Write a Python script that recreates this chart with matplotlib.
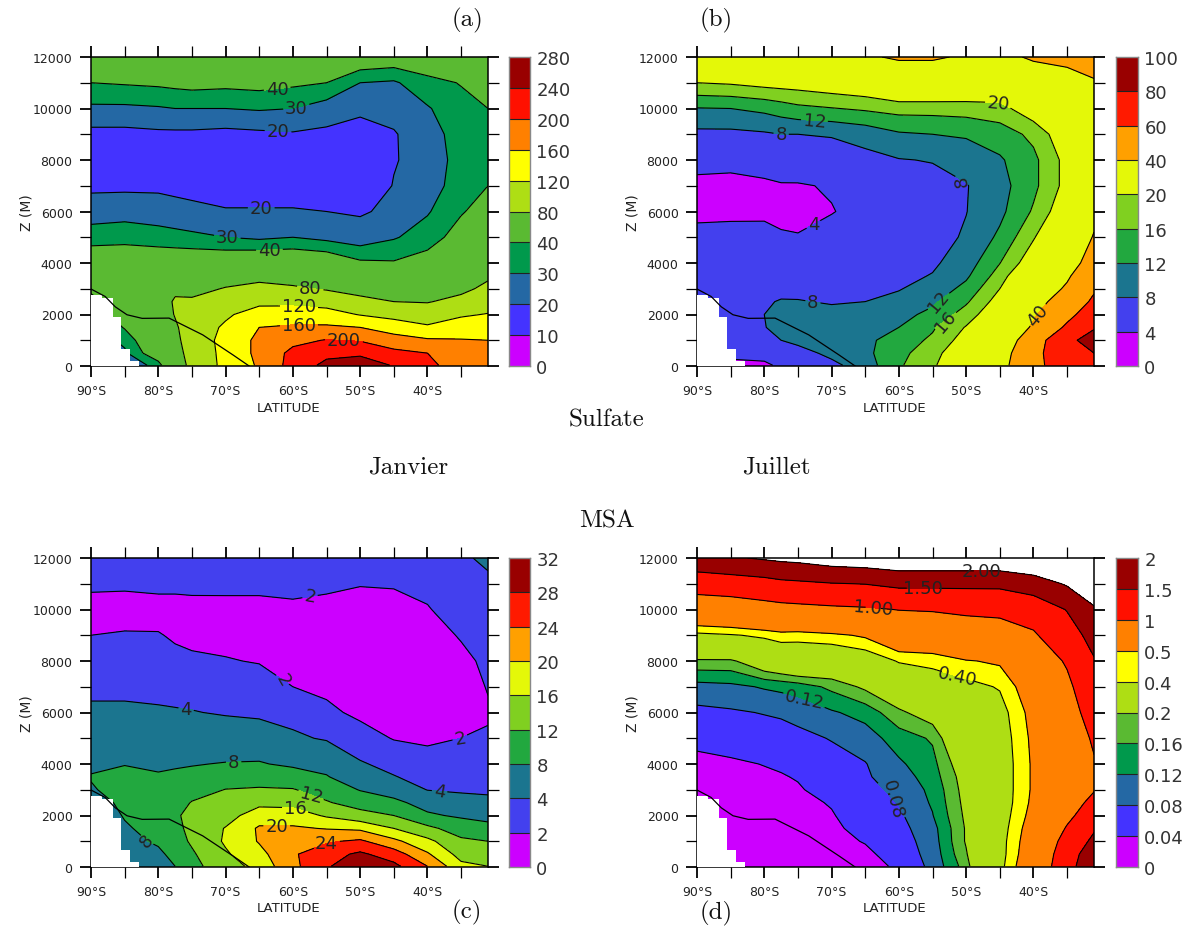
import matplotlib
matplotlib.use("Agg")
import numpy as np
import matplotlib.pyplot as plt
from matplotlib.colors import ListedColormap, BoundaryNorm

W, H = 1187, 928
LAT = [-90, -85, -80, -77.5, -75, -70, -65, -60, -55, -50, -45, -40, -35, -31]
Z = [30, 500, 1000, 1500, 2000, 2500, 3000, 3500, 4000, 5000, 6000, 7000, 8000, 9000, 10000, 11000, 12000]

# one row per latitude, one value per height
sulfate_jan = [
    [20, 20, 22, 25, 28, 32, 45, 55, 50, 35, 25, 18, 13, 17, 28, 40, 50],
    [20, 28, 33, 41, 50, 55, 55, 55, 50, 36, 26, 18, 13, 17, 28, 41, 50],
    [35, 50, 55, 58, 58, 58, 58, 55, 50, 34, 25, 18, 13, 18, 29, 42, 50],
    [60, 65, 70, 75, 82, 85, 72, 60, 50, 33, 24, 17, 12, 18, 30, 43, 50],
    [90, 95, 100, 100, 95, 85, 70, 60, 50, 32, 23, 16, 12, 18, 30, 44, 50],
    [130, 130, 130, 125, 115, 95, 82, 65, 50, 30, 21, 14, 11, 17, 30, 43, 50],
    [165, 170, 170, 160, 135, 112, 90, 70, 52, 28, 21, 14, 11, 18, 31, 44, 50],
    [215, 210, 190, 165, 140, 110, 85, 65, 52, 30, 21, 14, 11, 19, 30, 42, 50],
    [250, 230, 202, 166, 135, 105, 77, 62, 50, 27, 20, 12, 10.5, 18, 25, 40, 50],
    [255, 235, 197, 160, 118, 88, 70, 55, 42, 24, 19, 12, 10.5, 16, 22, 30, 50],
    [238, 210, 178, 140, 108, 80, 65, 52, 41, 29, 22, 20.5, 19.3, 19.3, 23, 28.5, 48],
    [215, 200, 165, 125, 100, 78, 65, 52, 45, 35, 29, 25, 24, 25, 29, 37, 48],
    [170, 170, 162, 140, 115, 90, 72, 60, 52, 45, 39, 35, 34, 35, 37, 40.5, 48],
    [195, 175, 160, 140, 122, 100, 88, 75, 65, 52, 45, 40, 37, 38, 40, 45, 50],
]
sulfate_jul = [
    [3, 3, 3, 3, 3, 3.5, 6.5, 6, 5.5, 4.5, 3.6, 3.4, 4.8, 7, 11.8, 20, 27],
    [3, 5, 6, 6, 6, 6, 6, 6, 6, 4.8, 3.5, 3.2, 4.8, 7, 12, 20.5, 28],
    [3.5, 5, 6, 7.8, 8, 7.5, 6.5, 6, 5.5, 4.5, 3.7, 3.6, 5, 7.5, 13, 21.5, 30],
    [4.5, 6, 8, 9.5, 9.5, 8.3, 6.8, 6, 5.5, 4.3, 3.3, 3.8, 5.5, 8, 14, 21.8, 31],
    [5, 6.5, 9, 10, 10, 8.2, 7, 6, 5.5, 4.2, 3, 3.8, 5.6, 8, 15, 22, 32],
    [7, 9, 10, 10, 9, 7.7, 7, 6, 5.5, 4.8, 3.9, 4.2, 6, 8.3, 15.8, 23, 35],
    [10, 11, 11, 10.5, 9.5, 8, 7, 6.2, 5.6, 4.9, 4.7, 5, 6.8, 9.5, 16.6, 24, 38],
    [15.5, 15, 14, 12, 10.8, 9, 7.8, 7, 6.3, 5.5, 5.2, 5.9, 7.8, 11.5, 17.5, 27, 42],
    [19, 18, 16.7, 15.5, 13, 11.3, 9.5, 8.2, 7.4, 6.4, 6.2, 6.6, 8.2, 12, 17.5, 27, 42],
    [27, 25, 22, 20.3, 17.8, 15.4, 13.2, 11.3, 10, 8.5, 7.9, 7.8, 9.5, 12.5, 17.8, 26, 38],
    [34, 32, 29, 26, 24, 22, 20, 17.8, 15.9, 12.8, 11, 10.5, 11.5, 14, 18.5, 25, 36],
    [56, 55, 50, 42, 38, 34, 30, 27, 23, 19.6, 16.5, 15, 15, 17, 23, 30, 42],
    [68, 72, 77, 63, 55, 48, 42, 38, 33, 27, 23.5, 21.5, 21.5, 23.5, 27, 34, 44],
    [62, 80, 85, 79, 70, 63, 58, 52, 47, 41, 36, 33, 31, 31, 34, 38, 50],
]
msa_jan = [
    [5, 5, 5, 5, 5, 5, 7.5, 8.3, 7, 5.6, 4.4, 3.5, 2.7, 2, 1.6, 2.2, 3],
    [5, 5.5, 6.5, 7.5, 8.3, 9.5, 10, 9.5, 7.8, 5.6, 4.4, 3.5, 2.7, 2.1, 1.5, 2.2, 3],
    [5.5, 7, 8.7, 9.5, 10, 10, 9.5, 8.3, 7.5, 5.5, 4.3, 3.3, 2.6, 2.1, 1.4, 2.4, 3],
    [8, 9.5, 10.5, 11, 11.5, 10.5, 9.5, 8.5, 7.7, 5.4, 4.2, 3.2, 2.4, 1.8, 1.4, 2.4, 3],
    [11, 11.5, 12.5, 13, 13, 12.2, 10.5, 9, 7.8, 5.3, 4.1, 3.1, 2.2, 1.7, 1.4, 2.5, 3],
    [14, 15.5, 16.5, 16.2, 14.5, 13, 12.1, 10, 8.2, 5.4, 3.8, 2.9, 2.1, 1.5, 1.3, 2.6, 3.2],
    [17.5, 18.8, 20.3, 20.5, 18, 15, 12.4, 10.3, 8.3, 5.5, 3.5, 2.8, 1.9, 1.4, 1.3, 2.6, 3.2],
    [23, 23.5, 23.5, 20.5, 18, 14.7, 12.2, 10, 7.3, 4.5, 3, 2, 1.6, 1.2, 1.6, 2.6, 3.3],
    [27.5, 26.5, 23.5, 19.8, 15.5, 12.3, 10.5, 8.2, 7, 3.7, 2.4, 1.6, 1.2, 1, 1.4, 2.4, 3.4],
    [31, 28.7, 24.7, 19.2, 13.3, 10.5, 7.8, 6, 4.2, 2.8, 1.6, 1.1, 0.9, 0.8, 1.2, 2.1, 3.3],
    [29, 26, 21, 16, 12, 8.8, 6.5, 4.1, 3.4, 1.9, 1, 0.8, 0.7, 0.8, 1.2, 2.2, 3.3],
    [24, 20.5, 17, 13, 8.5, 6.7, 3.9, 3.3, 2.7, 1.7, 1, 0.8, 0.8, 1, 1.9, 2.4, 3.4],
    [17, 14.5, 12.8, 10, 7.5, 4.6, 3.8, 3.2, 2.5, 2.01, 1.5, 1.2, 1.4, 2.2, 2.7, 3.1, 3.6],
    [16, 14, 12, 9, 7, 4.3, 3.8, 3.2, 2.8, 2.2, 1.8, 2.1, 2.5, 2.8, 3.1, 3.5, 4.5],
]
msa_jul = [
    [.01, .01, .01, .01, .01, .015, .02, .025, .03, .05, .07, .105, .19, .37, .72, 1.2, 1.85],
    [.01, .01, .01, .01, .012, .015, .02, .03, .035, .055, .075, .11, .19, .39, .75, 1.25, 1.95],
    [.01, .012, .015, .018, .02, .025, .03, .035, .041, .06, .082, .124, .25, .42, .83, 1.32, 2.05],
    [.012, .015, .018, .02, .025, .03, .032, .038, .044, .065, .085, .13, .27, .45, .86, 1.39, 2.1],
    [.015, .018, .02, .022, .028, .033, .037, .042, .052, .07, .092, .138, .29, .44, .88, 1.42, 2.13],
    [.02, .025, .03, .034, .038, .042, .052, .06, .066, .082, .115, .17, .27, .47, .92, 1.48, 2.25],
    [.022, .033, .042, .05, .055, .06, .067, .075, .078, .1, .135, .21, .31, .52, .95, 1.51, 2.3],
    [.048, .055, .06, .067, .073, .082, .09, .1, .113, .14, .19, .26, .41, .66, 1.01, 1.6, 2.4],
    [.09, .095, .1, .105, .118, .125, .13, .14, .147, .165, .23, .33, .43, .67, 1.03, 1.6, 2.4],
    [.18, .195, .205, .205, .21, .215, .22, .225, .24, .29, .33, .36, .49, .78, 1.07, 1.6, 2.4],
    [.36, .35, .35, .34, .33, .32, .32, .32, .32, .33, .35, .41, .52, .8, 1.1, 1.6, 2.4],
    [.65, .62, .6, .58, .55, .53, .52, .52, .52, .53, .55, .6, .7, .95, 1.2, 1.75, 2.5],
    [1.3, 1.25, 1.15, 1.03, .92, .82, .77, .73, .71, .75, .8, .9, 1.05, 1.3, 1.52, 2.05, 2.6],
    [1.9, 1.8, 1.6, 1.45, 1.2, 1.1, .98, .95, .97, 1.05, 1.2, 1.35, 1.47, 1.65, 1.95, 2.3, 2.7],
]

levels_a = [0, 10, 20, 30, 40, 80, 120, 160, 200, 240, 280]
levels_b = [0, 4, 8, 12, 16, 20, 40, 60, 80, 100]
levels_c = [0, 2, 4, 8, 12, 16, 20, 24, 28, 32]
levels_d = [0, .04, .08, .12, .16, .2, .4, .5, 1, 1.5, 2]
names_d = ["0", "0.04", "0.08", "0.12", "0.16", "0.2", "0.4", "0.5", "1", "1.5", "2"]

colors_ten = ["#cc00ff", "#4433ff", "#2468a4", "#00994c", "#5aba32", "#aede14",
              "#ffff00", "#ff8000", "#ff1000", "#990000"]
colors_nine = ["#cc00ff", "#4340ee", "#1b758f", "#22a83f", "#80d020", "#e4f808",
               "#ffa000", "#ff1a00", "#990000"]

# (text, latitude, height, rotation)
labels_a = [("40", -62.3, 10700, 0), ("30", -59.7, 10260, 0), ("20", -62.2, 9130, 0),
            ("20", -64.7, 6270, 0), ("30", -69.7, 5200, 0), ("40", -63.5, 4650, 0),
            ("80", -57.4, 3050, 0), ("120", -59.1, 2250, 0), ("160", -59.1, 1640, 0),
            ("200", -52.4, 1010, 0)]
labels_b = [("20", -45.2, 10230, -5), ("12", -72.5, 9740, -5), ("8", -77.5, 9000, 0),
            ("8", -50.4, 7310, 100), ("4", -72.4, 5360, 0), ("8", -72.75, 2530, 0),
            ("12", -53.9, 2440, 50), ("16", -52.9, 1690, 50), ("40", -39.2, 1960, 50)]
labels_c = [("2", -57.5, 10590, -10), ("2", -61.8, 7170, -60), ("2", -34.8, 4800, 10),
            ("4", -75.9, 6070, 0), ("4", -38.2, 2920, -10), ("8", -68.8, 4100, 0),
            ("8", -81.7, 1040, 50), ("12", -57.3, 2790, -15), ("16", -59.6, 2310, 0),
            ("20", -62.4, 1660, 0), ("24", -55.2, 1080, 0)]
labels_d = [("2.00", -47.7, 11520, 0), ("1.50", -56.4, 10810, 0), ("1.00", -63.8, 10070, -5),
            ("0.40", -51.2, 7500, -12), ("0.12", -74, 6550, -12), ("0.08", -60.6, 2700, -75)]

ridge_lat = [-90, -87.9, -86.4, -84.65, -82.4, -78.4, -73.4, -68.9, -66.5]
ridge_z = [2990, 2700, 2300, 1990, 1850, 1860, 1210, 430, 0]
mask_lat = [-90, -88.4, -88.4, -86.8, -86.8, -85.5, -85.5, -84.15, -84.15, -82.9, -82.9]
mask_top = [2770, 2770, 2650, 2650, 1900, 1900, 650, 650, 200, 200, 0]

lat_ticks = [-90, -80, -70, -60, -50, -40]
lat_names = ["90°S", "80°S", "70°S", "60°S", "50°S", "40°S"]

fig = plt.figure(figsize=(W / 100, H / 100), dpi=100)
plt.rcParams['font.family'] = 'DejaVu Sans'


def px_axes(x0, x1, y0, y1):
    return fig.add_axes([x0 / W, 1 - y1 / H, (x1 - x0) / W, (y1 - y0) / H])


def panel(x0, x1, y0, y1, columns, levels, colors, labels, names, cx0, cx1):
    ax = px_axes(x0, x1, y0, y1)
    data = np.array(columns).T
    cmap = ListedColormap(colors)
    norm = BoundaryNorm(levels, cmap.N)
    ax.contourf(LAT, Z, data, levels=levels, cmap=cmap, norm=norm)
    cs = ax.contour(LAT, Z, data, levels=levels[1:], colors="black", linewidths=0.8)
    ax.fill_between(mask_lat, -10, mask_top, color="white", lw=0, zorder=3)
    ax.plot(ridge_lat, ridge_z, color="black", lw=0.9, zorder=4)
    ax.set_xlim(-90, -31)
    ax.set_ylim(0, 12000)
    out = ax.clabel(cs, manual=[(la, zz) for _, la, zz, _ in labels], fmt="%g", fontsize=13,
                    colors="#222222", inline=True, inline_spacing=2)
    for t, (txt, _, _, rot) in zip(out, labels):
        t.set_text(txt)
        t.set_rotation(rot)
        t.set_zorder(6)
    ax.set_xticks(np.arange(-85, -31, 10), minor=True)
    ax.set_xticks(lat_ticks)
    ax.set_xticklabels(lat_names, fontsize=9, color="#222222")
    ax.set_yticks(np.arange(0, 12001, 2000))
    ax.set_yticks(np.arange(1000, 12000, 2000), minor=True)
    ax.tick_params(axis="both", which="major", direction="out", length=7.8, width=1.3,
                   top=True, right=True)
    ax.tick_params(axis="both", which="minor", direction="out", length=7.8, width=0.9,
                   top=True, right=True)
    ax.tick_params(axis="x", which="major", pad=5)
    ax.tick_params(axis="y", which="major", labelsize=9, labelcolor="#222222", pad=5.5)
    ax.set_xlabel("LATITUDE", fontsize=9.5, color="#222222", va="center")
    ax.xaxis.set_label_coords(0.497, -41 / (y1 - y0))
    ax.set_ylabel("Z (M)", fontsize=10, color="#222222", va="center")
    ax.yaxis.set_label_coords(-65 / (x1 - x0), 0.5)
    for s in ax.spines.values():
        s.set_linewidth(1.1)

    cb = px_axes(cx0, cx1, y0, y1)
    n = len(colors)
    cb.pcolormesh([0, 1], np.arange(n + 1), np.arange(n)[:, None], cmap=cmap,
                  vmin=-0.5, vmax=n - 0.5, edgecolors="none")
    cb.hlines(np.arange(1, n), 0, 1, color="#222222", lw=0.8)
    cb.set_xticks([])
    cb.yaxis.tick_right()
    cb.set_yticks(np.arange(n + 1))
    cb.set_yticklabels(names, fontsize=13, color="#333333")
    cb.tick_params(axis="y", length=0, pad=4.5)
    for s in cb.spines.values():
        s.set_color("#888888")
        s.set_linewidth(1)


panel(91, 488, 58, 367, sulfate_jan, levels_a, colors_ten, labels_a, [str(v) for v in levels_a], 509, 530)
panel(697, 1094, 58, 367, sulfate_jul, levels_b, colors_nine, labels_b, [str(v) for v in levels_b], 1116, 1138)
panel(91, 488, 559, 868, msa_jan, levels_c, colors_nine, labels_c, [str(v) for v in levels_c], 509, 530)
panel(697, 1094, 559, 868, msa_jul, levels_d, colors_ten, labels_d, names_d, 1116, 1138)

titles = [("(a)", 467, 20), ("(b)", 716, 20), ("Sulfate", 607, 420), ("Janvier", 408, 467),
          ("Juillet", 776, 467), ("MSA", 607, 521), ("(c)", 467, 912), ("(d)", 716, 913)]
for txt, px, py in titles:
    fig.text(px / W, 1 - py / H, txt, family="cmr10", fontsize=18, ha="center", va="center", color="#111111")

fig.savefig("out.png", dpi=100)
